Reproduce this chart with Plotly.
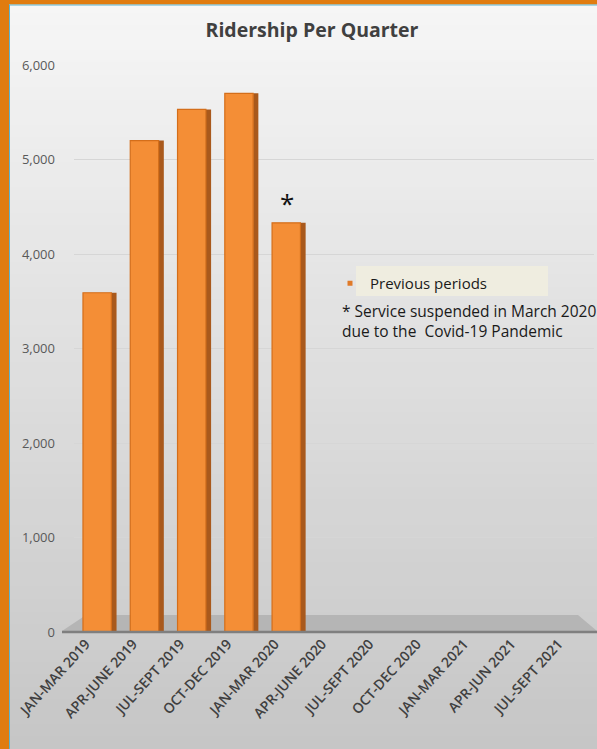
import plotly.graph_objects as go

# ---- data ----
categories = ["JAN-MAR 2019", "APR-JUNE 2019", "JUL-SEPT 2019", "OCT-DEC 2019",
              "JAN-MAR 2020", "APR-JUNE 2020", "JUL-SEPT 2020", "OCT-DEC 2020",
              "JAN-MAR 2021", "APR-JUN 2021", "JUL-SEPT 2021"]
ridership = [3590, 5200, 5530, 5700, 4330, None, None, None, None, None, None]
y_ticks = [0, 1000, 2000, 3000, 4000, 5000, 6000]
y_tick_labels = ["0", "1,000", "2,000", "3,000", "4,000", "5,000", "6,000"]
series_name = "Previous periods"
note_text = "* Service suspended in March 2020<br>due to the  Covid-19 Pandemic"

# ---- layout geometry (pixels) ----
W, H = 597, 749
L, R, T, B = 74, 594, 65, 632

def px(x):
    return (x - L) / (R - L)

def py(y):
    return (B - y) / (B - T)

def lerp_color(c1, c2, t):
    return "rgb({},{},{})".format(*[round(a + (b - a) * t) for a, b in zip(c1, c2)])

shapes = []
# background vertical gradient
n = 60
top_c, bot_c = (246, 246, 246), (198, 198, 198)
for i in range(n):
    y0 = H * i / n
    y1 = H * (i + 1) / n + 1
    shapes.append(dict(type="rect", xref="paper", yref="paper", layer="below",
                       x0=px(0), x1=px(W), y0=py(y1), y1=py(y0),
                       fillcolor=lerp_color(top_c, bot_c, i / (n - 1)), line=dict(width=0)))
# floor
shapes.append(dict(type="path", xref="paper", yref="paper", layer="below",
                   path="M {},{} L {},{} L {},{} L {},{} Z".format(
                       px(86), py(615), px(578), py(615), px(597), py(631), px(62), py(631)),
                   fillcolor="#b5b5b5", line=dict(width=0)))
# zero line
shapes.append(dict(type="line", xref="paper", yref="paper",
                   x0=px(62), x1=px(597), y0=py(632), y1=py(632),
                   line=dict(color="#7f7f7f", width=2.5)))
# legend background
shapes.append(dict(type="rect", xref="paper", yref="paper", layer="below",
                   x0=px(356), x1=px(548), y0=py(296), y1=py(266),
                   fillcolor="#efede0", line=dict(width=0)))
# orange frame
shapes.append(dict(type="rect", xref="paper", yref="paper",
                   x0=px(0), x1=px(9), y0=py(H), y1=py(0),
                   fillcolor="#e07c10", line=dict(width=0)))
shapes.append(dict(type="rect", xref="paper", yref="paper",
                   x0=px(0), x1=px(W), y0=py(4.5), y1=py(0),
                   fillcolor="#e07c10", line=dict(width=0)))
shapes.append(dict(type="line", xref="paper", yref="paper",
                   x0=px(9.5), x1=px(9.5), y0=py(H), y1=py(4.5),
                   line=dict(color="#5ab4d0", width=1)))
shapes.append(dict(type="line", xref="paper", yref="paper",
                   x0=px(9.5), x1=px(W), y0=py(5), y1=py(5),
                   line=dict(color="#5ab4d0", width=1)))

fig = go.Figure()
# 3D side face
fig.add_trace(go.Bar(x=categories, y=ridership, width=0.11, offset=0.29,
                     marker=dict(color="#a9591c", line=dict(width=0)),
                     showlegend=False, hoverinfo="skip"))
# front face
fig.add_trace(go.Bar(x=categories, y=ridership, width=0.6, offset=-0.31,
                     marker=dict(color="#f48e36", line=dict(color="#d46e1a", width=1.2)),
                     showlegend=False, name=series_name))
# legend entry
fig.add_trace(go.Scatter(x=[None], y=[None], mode="markers", name=series_name,
                         marker=dict(symbol="square", size=5, color="#e07a28")))

fig.update_layout(
    width=W, height=H,
    margin=dict(l=L, r=W - R, t=T, b=H - B, pad=0),
    paper_bgcolor="#e6e6e6",
    plot_bgcolor="rgba(0,0,0,0)",
    font=dict(family="Open Sans, sans-serif", color="#404040"),
    title=dict(text="<b>Ridership Per Quarter</b>", x=px(312), xref="paper", xanchor="center",
               y=1 - 30 / H, yref="container", yanchor="middle",
               font=dict(size=19.5, color="#404040")),
    barmode="overlay",
    shapes=shapes,
    showlegend=True,
    legend=dict(x=px(330), y=py(267), xanchor="left", yanchor="top",
                bgcolor="rgba(0,0,0,0)", itemwidth=30,
                font=dict(size=15, color="#1a1a1a")),
    annotations=[
        dict(text=note_text, xref="paper", yref="paper", x=px(340), y=py(298),
             xanchor="left", yanchor="top", align="left", showarrow=False,
             font=dict(size=15.5, color="#1a1a1a")),
        dict(text="*", x=categories[4], y=ridership[4], xref="x", yref="y",
             xanchor="center", yanchor="bottom", yshift=0, showarrow=False,
             font=dict(size=26, color="#111111")),
    ],
)
fig.update_xaxes(type="category", categoryorder="array", categoryarray=categories,
                 tickangle=-48, tickfont=dict(size=14, color="#404040", weight=600),
                 ticklabelshift=-12,
                 showgrid=False, showline=False, ticks="", zeroline=False)
fig.update_yaxes(range=[0, 6000], tickvals=y_ticks, ticktext=y_tick_labels,
                 tickfont=dict(size=13, color="#595959"),
                 showgrid=True, gridcolor="#d6d6d6", gridwidth=1,
                 zeroline=False, showline=False, ticks="", ticklabelstandoff=18)

fig.write_html(
    "out.html", config={"displayModeBar": False},
    post_script=(
        "document.documentElement.style.margin='0';"
        "document.documentElement.style.overflow='hidden';"
        "document.body.style.margin='0';"
        "document.body.style.overflow='hidden';"
        "var d=document.getElementById('{plot_id}');"
        "d.style.display='block';"
        "if(d.parentElement){d.parentElement.style.lineHeight='0';}"
        "window.scrollTo(0,0);"
    ),
)
